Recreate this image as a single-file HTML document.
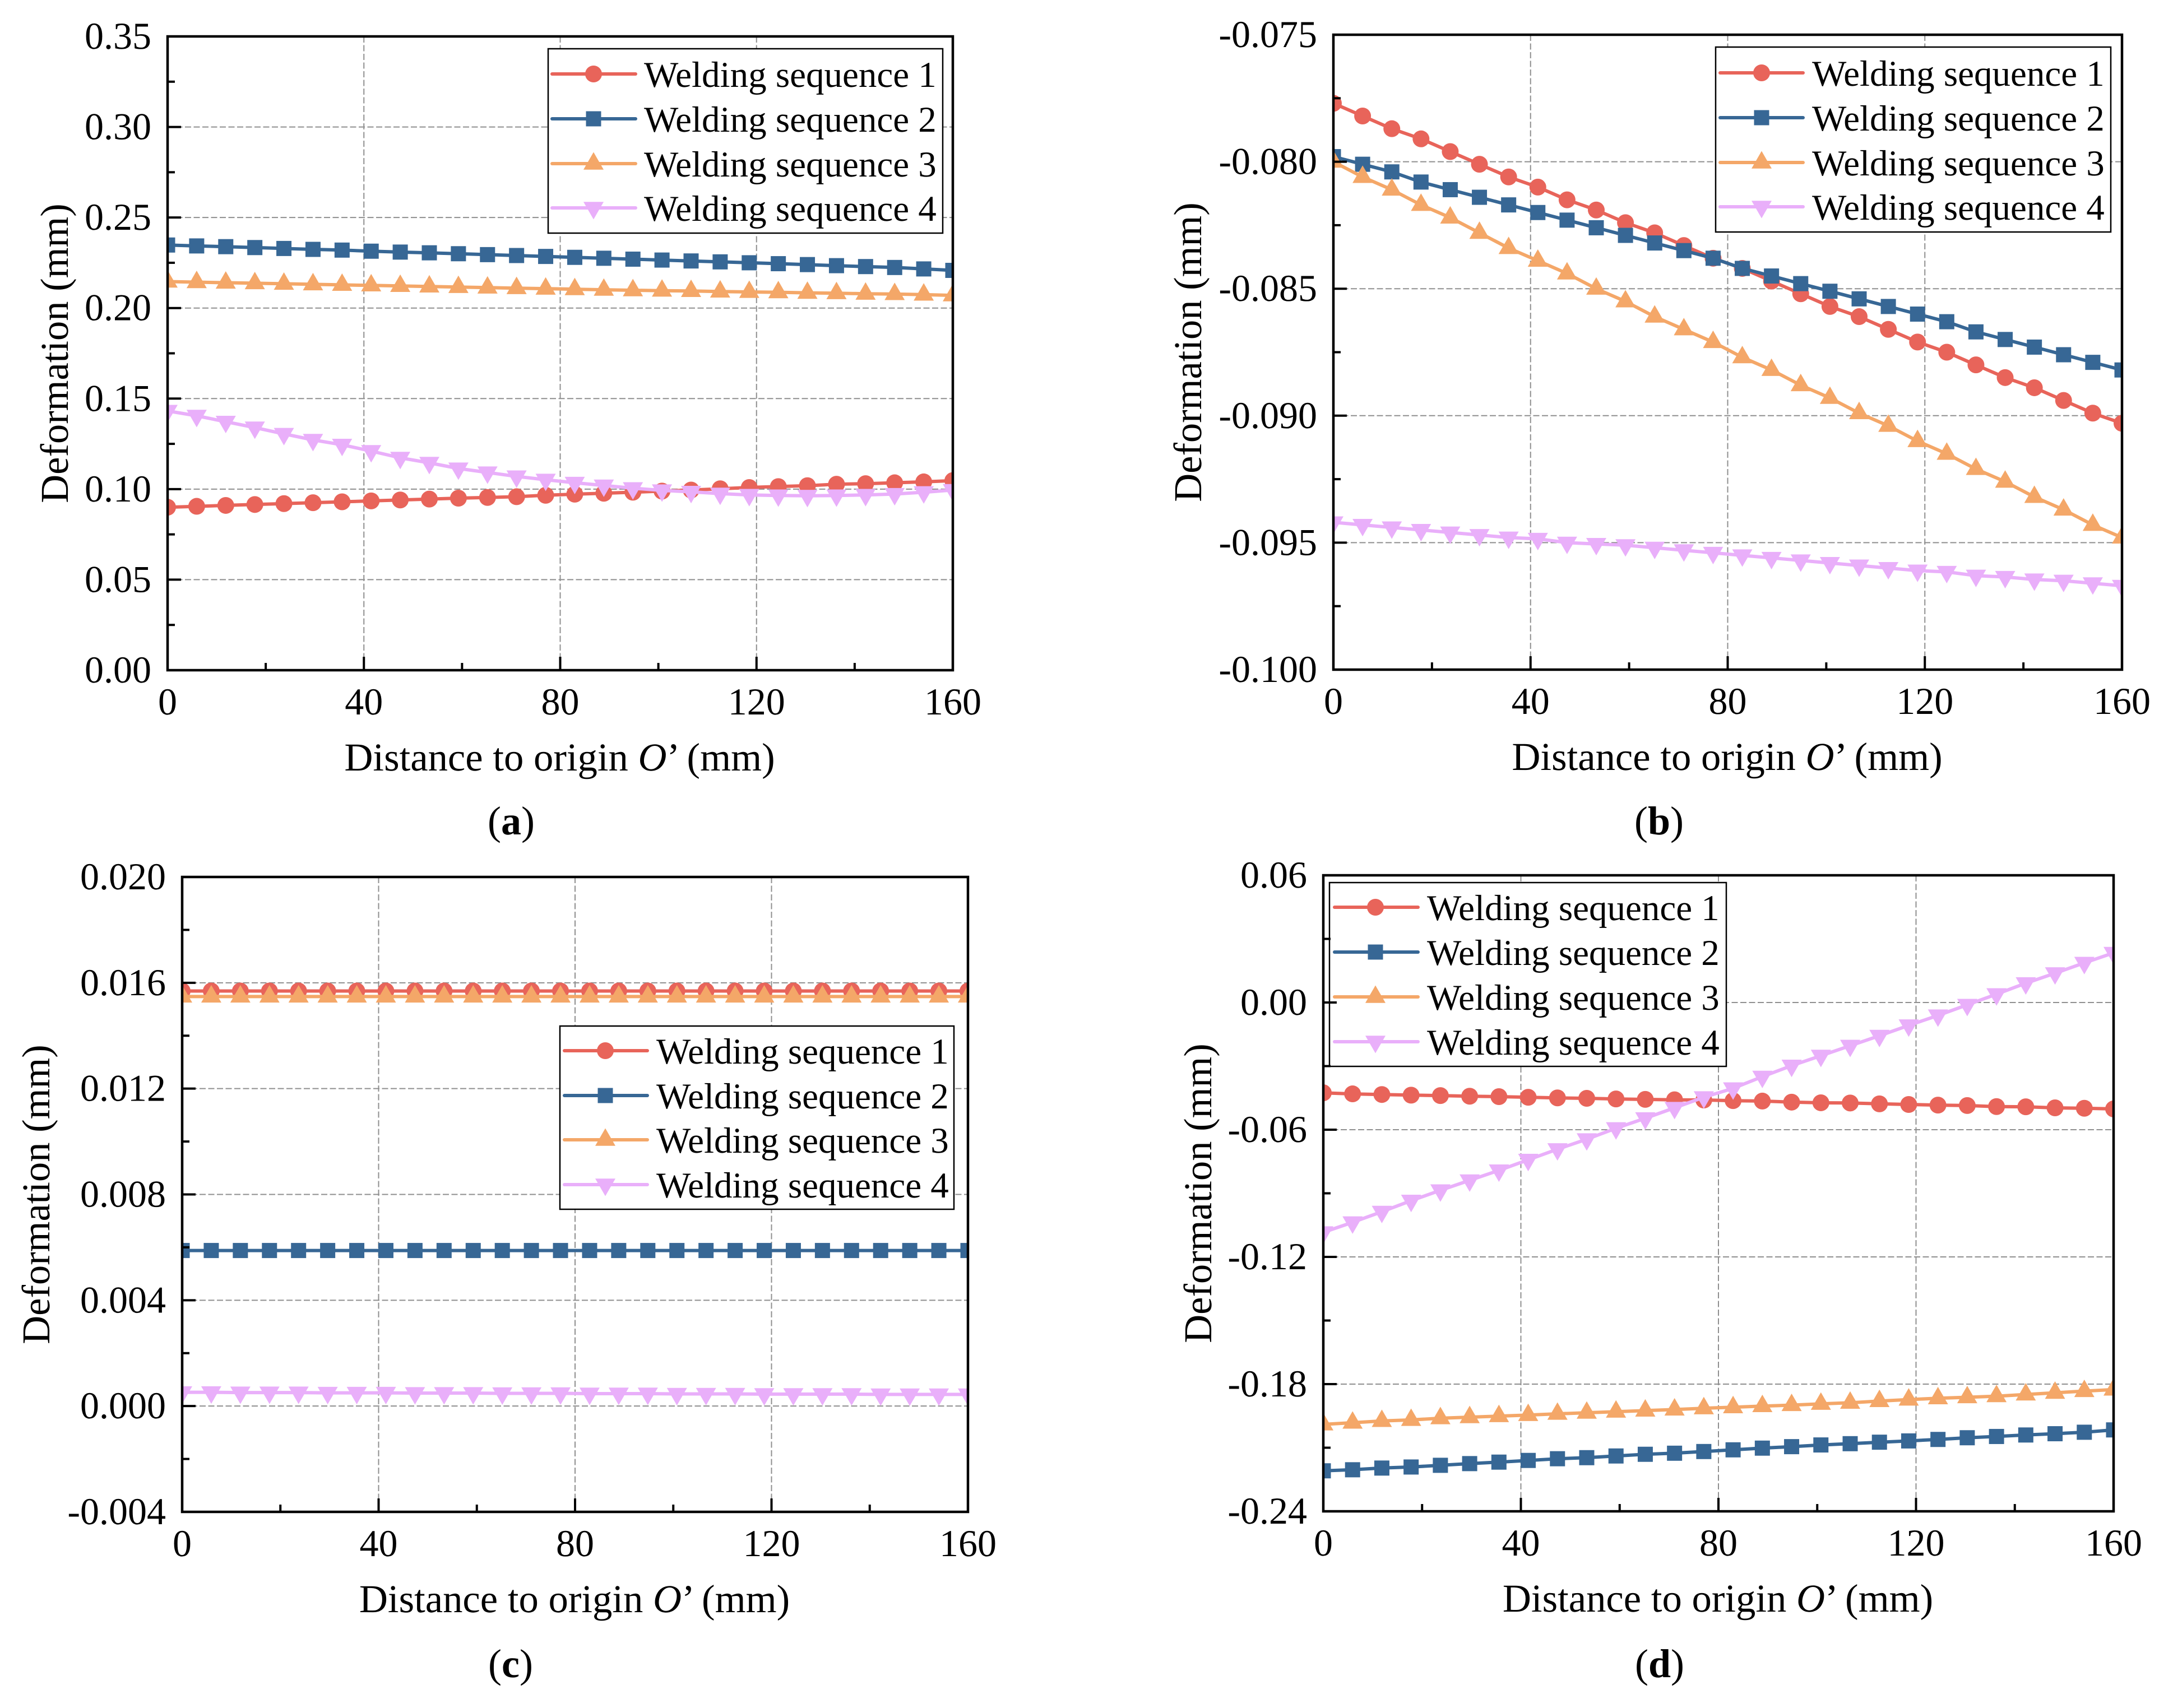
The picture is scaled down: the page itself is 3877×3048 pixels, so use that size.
<!DOCTYPE html>
<html lang="en">
<head>
<meta charset="utf-8">
<title>Welding sequence deformation charts</title>
<style>
html,body{margin:0;padding:0;background:#fff;}
svg{display:block;}
text{font-family:"Liberation Serif","Times New Roman",serif;fill:#000;text-rendering:geometricPrecision;}
</style>
</head>
<body>
<svg id="figure" xmlns="http://www.w3.org/2000/svg" width="3877" height="3048" viewBox="0 0 3877 3048"></svg>
<script>
// ---------- shared data ----------
const distance = [0,5.926,11.852,17.778,23.704,29.63,35.556,41.481,47.407,53.333,59.259,65.185,71.111,77.037,82.963,88.889,94.815,100.741,106.667,112.593,118.519,124.444,130.37,136.296,142.222,148.148,154.074,160];
const xMajorTicks = [0,40,80,120,160];
const xTickLabels = ["0","40","80","120","160"];
const seriesNames = ["Welding sequence 1","Welding sequence 2","Welding sequence 3","Welding sequence 4"];

// ---------- panel (a) ----------
const aSeq1 = [.0900,.0905,.0910,.0915,.0920,.0925,.0930,.0935,.0940,.0945,.0950,.0954,.0958,.0966,.0972,.0977,.0983,.0989,.0995,.1002,.1009,.1014,.1019,.1027,.1030,.1035,.1040,.1047];
const aSeq2 = [.2348,.2343,.2339,.2334,.2329,.2324,.2320,.2314,.2309,.2305,.2300,.2295,.2290,.2285,.2280,.2275,.2270,.2265,.2260,.2255,.2250,.2245,.2240,.2234,.2229,.2224,.2216,.2208];
const aSeq3 = [.2146,.2143,.2140,.2137,.2134,.2131,.2128,.2125,.2122,.2119,.2116,.2113,.2110,.2107,.2104,.2101,.2098,.2096,.2094,.2091,.2089,.2087,.2084,.2082,.2079,.2077,.2074,.2070];
const aSeq4 = [.1432,.1405,.1372,.1340,.1305,.1272,.1245,.1210,.1173,.1145,.1114,.1092,.1070,.1052,.1035,.1020,.1005,.0993,.0985,.0975,.0968,.0965,.0963,.0965,.0968,.0973,.0983,.0995];
const aYTicks = [0,.05,.10,.15,.20,.25,.30,.35];
const aYLabels = ["0.00","0.05","0.10","0.15","0.20","0.25","0.30","0.35"];

// ---------- panel (b) ----------
const bSeq1 = [-.0777,-.0782,-.0787,-.0791,-.0796,-.0801,-.0806,-.0810,-.0815,-.0819,-.0824,-.0828,-.0833,-.0838,-.0842,-.0847,-.0852,-.0857,-.0861,-.0866,-.0871,-.0875,-.0880,-.0885,-.0889,-.0894,-.0899,-.0903];
const bSeq2 = [-.0798,-.0801,-.0804,-.0808,-.0811,-.0814,-.0817,-.0820,-.0823,-.0826,-.0829,-.0832,-.0835,-.0838,-.0842,-.0845,-.0848,-.0851,-.0854,-.0857,-.0860,-.0863,-.0867,-.0870,-.0873,-.0876,-.0879,-.0882];
const bSeq3 = [-.0800,-.0806,-.0811,-.0817,-.0822,-.0828,-.0834,-.0839,-.0844,-.0850,-.0855,-.0861,-.0866,-.0871,-.0877,-.0882,-.0888,-.0893,-.0899,-.0904,-.0910,-.0915,-.0921,-.0926,-.0932,-.0937,-.0943,-.0948];
const bSeq4 = [-.0942,-.0943,-.0944,-.0945,-.0946,-.0947,-.0948,-.09485,-.0950,-.09505,-.0951,-.0952,-.0953,-.0954,-.0955,-.0956,-.0957,-.0958,-.0959,-.0960,-.0961,-.09615,-.0963,-.09635,-.09645,-.0965,-.0966,-.0967];
const bYTicks = [-.100,-.095,-.090,-.085,-.080,-.075];
const bYLabels = ["-0.100","-0.095","-0.090","-0.085","-0.080","-0.075"];

// ---------- panel (c) ----------
const cSeq1 = [.01569,.01569,.01569,.01569,.01569,.01569,.01569,.01569,.01569,.01569,.01569,.01569,.01569,.01569,.01569,.01569,.01569,.01569,.01569,.01569,.01569,.01569,.01569,.01569,.01569,.01569,.01569,.01569];
const cSeq2 = [.00588,.00588,.00588,.00588,.00588,.00588,.00588,.00588,.00588,.00588,.00588,.00588,.00588,.00588,.00588,.00588,.00588,.00588,.00588,.00588,.00588,.00588,.00588,.00588,.00588,.00588,.00588,.00588];
const cSeq3 = [.01548,.01548,.01548,.01548,.01548,.01548,.01548,.01548,.01548,.01548,.01548,.01548,.01548,.01548,.01548,.01548,.01548,.01548,.01548,.01548,.01548,.01548,.01548,.01548,.01548,.01548,.01548,.01548];
const cSeq4 = [.00052,.00052,.00051,.00051,.00051,.00050,.00050,.00050,.00049,.00049,.00049,.00048,.00048,.00048,.00047,.00047,.00047,.00046,.00046,.00046,.00045,.00045,.00045,.00045,.00044,.00044,.00044,.00044];
const cYTicks = [-.004,0,.004,.008,.012,.016,.020];
const cYLabels = ["-0.004","0.000","0.004","0.008","0.012","0.016","0.020"];

// ---------- panel (d) ----------
const dSeq1 = [-.0426,-.0431,-.0434,-.0437,-.0439,-.0442,-.0444,-.0447,-.0450,-.0452,-.0455,-.0457,-.0459,-.0460,-.0463,-.0465,-.0470,-.0473,-.0474,-.0478,-.0481,-.0484,-.0486,-.0491,-.0492,-.0497,-.0499,-.0502];
const dSeq2 = [-.2209,-.2204,-.2196,-.2191,-.2183,-.2175,-.2168,-.2160,-.2152,-.2147,-.2139,-.2131,-.2126,-.2118,-.2110,-.2102,-.2095,-.2087,-.2081,-.2074,-.2068,-.2061,-.2053,-.2047,-.2040,-.2034,-.2027,-.2016];
const dSeq3 = [-.1990,-.1982,-.1974,-.1969,-.1961,-.1956,-.1951,-.1946,-.1940,-.1935,-.1930,-.1925,-.1920,-.1914,-.1909,-.1904,-.1899,-.1893,-.1888,-.1880,-.1873,-.1867,-.1862,-.1857,-.1849,-.1841,-.1833,-.1826];
const dSeq4 = [-.1084,-.1037,-.0987,-.0935,-.0886,-.0839,-.0792,-.0742,-.0692,-.0645,-.0593,-.0546,-.0497,-.0447,-.0405,-.0350,-.0298,-.0251,-.0204,-.0157,-.0108,-.0061,-.0011,.0039,.0091,.0138,.0187,.0234];
const dYTicks = [-.24,-.18,-.12,-.06,0,.06];
const dYLabels = ["-0.24","-0.18","-0.12","-0.06","0.00","0.06"];

// ---------- styling / layout ----------
const colors = ["#e8645a","#376795","#f4a768","#e9affa"];
const markerKinds = ["circle","square","up","down"];
const panels = [
  {id:"a",series:[aSeq1,aSeq2,aSeq3,aSeq4],yTicks:aYTicks,yLabels:aYLabels,
   box:{l:299,r:1700,t:65,b:1196},yTitleX:121,capX:912,capY:1489,
   legend:{l:978,r:1682,t:87,b:416,rows:[132,212,292,371],lineL:985,lineR:1134,mark:1059,text:1149}},
  {id:"b",series:[bSeq1,bSeq2,bSeq3,bSeq4],yTicks:bYTicks,yLabels:bYLabels,
   box:{l:2379,r:3786,t:62,b:1195},yTitleX:2143,capX:2960,capY:1489,
   legend:{l:3061,r:3766,t:84,b:414,rows:[130,210,290,369],lineL:3069,lineR:3217,mark:3143,text:3233}},
  {id:"c",series:[cSeq1,cSeq2,cSeq3,cSeq4],yTicks:cYTicks,yLabels:cYLabels,
   box:{l:325,r:1727,t:1565,b:2698},yTitleX:88,capX:911,capY:2993,
   legend:{l:999,r:1702,t:1831,b:2158,rows:[1875,1955,2034,2114],lineL:1007,lineR:1155,mark:1080,text:1171}},
  {id:"d",series:[dSeq1,dSeq2,dSeq3,dSeq4],yTicks:dYTicks,yLabels:dYLabels,
   box:{l:2361,r:3771,t:1562,b:2697},yTitleX:2161,capX:2961,capY:2993,
   legend:{l:2372,r:3080,t:1575,b:1903,rows:[1619,1699,1779,1859],lineL:2381,lineR:2530,mark:2454,text:2546}}
];

const NS = "http://www.w3.org/2000/svg";
const root = document.getElementById("figure");
function mk(tag, attrs, parent){
  const n = document.createElementNS(NS, tag);
  for (const k in attrs) n.setAttribute(k, attrs[k]);
  parent.appendChild(n);
  return n;
}
function drawMarker(kind, cx, cy, color, parent){
  let m;
  if (kind === "circle") {
    m = mk("circle",{cx:cx,cy:cy,r:15,fill:color},parent);
  } else if (kind === "square") {
    m = mk("rect",{x:cx-13.5,y:cy-13.5,width:27,height:27,fill:color},parent);
  } else if (kind === "up") {
    m = mk("polygon",{points:(cx-18)+","+(cy+10.7)+" "+(cx+18)+","+(cy+10.7)+" "+cx+","+(cy-20.5),fill:color},parent);
  } else {
    m = mk("polygon",{points:(cx-18)+","+(cy-10.7)+" "+(cx+18)+","+(cy-10.7)+" "+cx+","+(cy+20.5),fill:color},parent);
  }
  
  
  return m;
}

panels.forEach(function(p){
  const b = p.box;
  const xMin = xMajorTicks[0], xMax = xMajorTicks[xMajorTicks.length-1];
  const yMin = p.yTicks[0], yMax = p.yTicks[p.yTicks.length-1];
  const xScale = function(v){ return b.l + (v-xMin)/(xMax-xMin)*(b.r-b.l); };
  const yScale = function(v){ return b.b - (v-yMin)/(yMax-yMin)*(b.b-b.t); };

  const g = mk("g",{},root);
  
  

  const clip = mk("clipPath",{id:"clip-"+p.id},g);
  mk("rect",{x:b.l,y:b.t,width:b.r-b.l,height:b.b-b.t},clip);

  // grid
  const grid = mk("g",{stroke:"#8f8f8f",  "stroke-width":2, "stroke-dasharray":"11 4.5", fill:"none"},g);
  
  
  xMajorTicks.slice(1,-1).forEach(function(v){
    const l = mk("line",{x1:xScale(v),x2:xScale(v),y1:b.t,y2:b.b},grid);
    
    
  });
  p.yTicks.slice(1,-1).forEach(function(v){
    const l = mk("line",{x1:b.l,x2:b.r,y1:yScale(v),y2:yScale(v)},grid);
    
    
  });

  // legend
  const lg = p.legend;
  const legend = mk("g",{},g);
  
  
  const lr = mk("rect",{x:lg.l,y:lg.t,width:lg.r-lg.l,height:lg.b-lg.t,fill:"#fff",stroke:"#000","stroke-width":2.5},legend);
  
  
  seriesNames.forEach(function(name,i){
    const row = mk("g",{},legend);
    
    
    const ll = mk("line",{x1:lg.lineL,x2:lg.lineR,y1:lg.rows[i],y2:lg.rows[i],stroke:colors[i],"stroke-width":6,"stroke-linecap":"round"},row);
    
    
    drawMarker(markerKinds[i],lg.mark,lg.rows[i],colors[i],row);
    const t = mk("text",{x:lg.text,y:lg.rows[i]+23,"font-size":65},row);
    
    
    t.textContent = name;
  });

  // series
  const plot = mk("g",{"clip-path":"url(#clip-"+p.id+")"},g);
  
  
  p.series.forEach(function(values,i){
    const sg = mk("g",{},plot);
    
    
    const pts = values.map(function(v,k){ return xScale(distance[k]).toFixed(1)+","+yScale(v).toFixed(1); }).join(" ");
    const line = mk("polyline",{points:pts,fill:"none",stroke:colors[i],"stroke-width":6,"stroke-linejoin":"round"},sg);
    
    
    values.forEach(function(v,k){
      drawMarker(markerKinds[i],xScale(distance[k]),yScale(v),colors[i],sg);
    });
  });

  // axes frame
  const frame = mk("rect",{x:b.l,y:b.t,width:b.r-b.l,height:b.b-b.t,fill:"none",stroke:"#000","stroke-width":4.5},g);
  
  

  // y ticks
  p.yTicks.forEach(function(v,i){
    const y = yScale(v);
    const tk = mk("line",{x1:b.l,x2:b.l+24,y1:y,y2:y,stroke:"#000","stroke-width":4},g);
    
    
    if (i < p.yTicks.length-1) {
      const my = yScale((v+p.yTicks[i+1])/2);
      const mt = mk("line",{x1:b.l,x2:b.l+13,y1:my,y2:my,stroke:"#000","stroke-width":4},g);
      
      
    }
    const t = mk("text",{x:b.l-29,y:y+22,"font-size":68,"text-anchor":"end"},g);
    
    
    t.textContent = p.yLabels[i];
  });

  // x ticks
  xMajorTicks.forEach(function(v,i){
    const x = xScale(v);
    const tk = mk("line",{x1:x,x2:x,y1:b.b,y2:b.b-24,stroke:"#000","stroke-width":4},g);
    
    
    if (i < xMajorTicks.length-1) {
      const mx = xScale((v+xMajorTicks[i+1])/2);
      const mt = mk("line",{x1:mx,x2:mx,y1:b.b,y2:b.b-13,stroke:"#000","stroke-width":4},g);
      
      
    }
    const t = mk("text",{x:x,y:b.b+79,"font-size":68,"text-anchor":"middle"},g);
    
    
    t.textContent = xTickLabels[i];
  });

  // x title
  const xt = mk("text",{x:(b.l+b.r)/2-1,y:b.b+179,"font-size":70.7,"text-anchor":"middle"},g);
  
  
  xt.appendChild(document.createTextNode("Distance to origin "));
  const em = mk("tspan",{"font-style":"italic"},xt);
  em.textContent = "O";
  xt.appendChild(document.createTextNode("’ (mm)"));

  // y title
  const cy = (b.t+b.b)/2;
  const yt = mk("text",{x:p.yTitleX,y:cy,"font-size":70.5,"text-anchor":"middle",transform:"rotate(-90 "+p.yTitleX+" "+cy+")"},g);
  
  
  yt.textContent = "Deformation (mm)";

  // caption
  const cap = mk("text",{x:p.capX,y:p.capY,"font-size":72,"text-anchor":"middle"},g);
  
  
  cap.appendChild(document.createTextNode("("));
  const bold = mk("tspan",{"font-weight":"bold"},cap);
  bold.textContent = p.id;
  cap.appendChild(document.createTextNode(")"));
});
</script>
</body>
</html>
